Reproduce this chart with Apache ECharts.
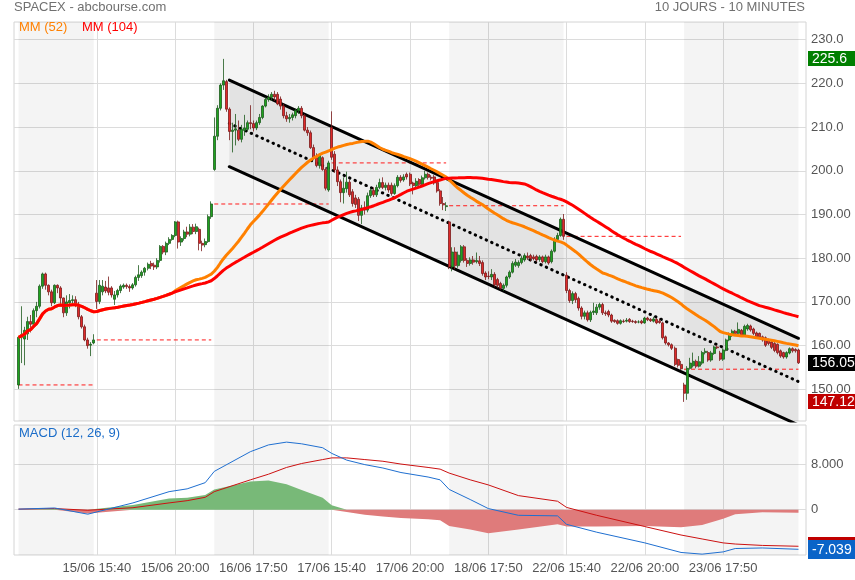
<!DOCTYPE html>
<html><head><meta charset="utf-8">
<script src="https://cdn.jsdelivr.net/npm/echarts@6/dist/echarts.min.js"></script>
<style>html,body{margin:0;padding:0;background:#fff}#c{width:855px;height:580px}</style>
</head><body><div id="c"></div>
<script>
// ---- data (10-minute candles: [open, close, low, high]) ----
const dayDates = ['12/06','15/06','16/06','17/06','18/06','22/06','23/06'];
const dayFirstTime = ['17:50','15:40','15:40','15:40','15:40','15:40','15:40'];
const prevCloses = [151.0,161.3,192.4,201.8,192.0,185.0,154.6];
const shadedDays = [0,2,4,6];
const tickLabels = ['15/06 15:40','15/06 20:00','16/06 17:50','17/06 15:40','17/06 20:00','18/06 17:50','22/06 15:40','22/06 20:00','23/06 17:50'];
const yTickValues = [150,160,170,180,190,200,210,220,230];
const yTickLabels = ['150.00','160.00','170.00','180.00','190.00','200.0','210.0','220.0','230.0'];
const macdTickValues = [0,8];
const macdTickLabels = ['0','8.000'];

const c1206 = [[151.0,161.9,150.1,162.0],[161.9,162.5,156.0,169.0],[161.5,163.5,155.5,164.3],[162.7,165.5,161.3,166.6],[165.5,164.9,163.0,167.0],[164.9,168.0,164.0,168.5],[168.0,169.0,166.5,170.0],[169.0,173.6,168.5,174.0],[173.6,176.4,173.0,176.7],[176.4,173.8,172.8,176.7],[173.8,172.3,171.5,174.0],[172.3,169.8,169.0,172.8],[169.8,173.8,169.5,174.0],[173.8,173.2,172.0,174.0],[173.2,170.9,169.5,173.6],[170.9,167.5,166.5,171.0],[167.5,170.0,166.8,171.5],[169.8,170.3,168.5,171.8],[170.3,170.5,169.5,171.5],[170.5,169.5,168.8,171.3],[169.5,166.6,166.0,170.0],[166.6,164.3,163.9,167.0],[164.3,161.3,161.0,164.8],[161.3,160.0,159.3,161.8],[160.1,160.3,157.6,160.8],[160.6,161.3,160.3,162.6]];
const c1506 = [[172.0,170.1,168.4,175.0],[170.1,173.8,169.5,175.0],[172.3,173.6,171.5,175.0],[173.4,172.5,172.0,174.8],[173.2,172.2,171.5,175.8],[173.2,171.6,171.0,173.6],[170.6,171.6,169.3,172.5],[171.6,172.6,171.0,173.0],[172.6,173.6,172.0,174.0],[173.4,173.8,173.0,174.2],[173.8,173.5,173.0,174.2],[173.5,173.2,172.3,174.0],[173.2,173.9,172.8,174.3],[173.9,175.6,173.5,176.0],[175.6,176.2,174.8,178.4],[176.0,176.8,175.5,177.2],[176.8,177.7,176.0,178.0],[177.7,178.6,177.2,179.0],[178.8,178.2,177.5,179.4],[178.4,178.0,177.3,179.0],[178.0,179.5,177.5,180.0],[179.5,182.7,179.0,183.0],[182.7,181.4,180.9,183.0],[181.4,183.4,180.7,183.8],[183.4,184.3,183.0,184.8],[184.3,185.2,184.0,185.5],[185.2,188.3,184.8,188.5],[188.3,183.7,182.2,188.6],[183.7,184.5,182.8,185.0],[184.5,186.0,184.0,186.5],[186.0,185.5,184.8,187.2],[185.5,187.1,185.0,187.8],[187.1,186.1,185.5,187.8],[186.1,187.2,185.5,187.9],[186.6,183.4,181.8,187.0],[183.4,183.0,181.6,184.0],[183.1,183.8,182.5,184.5],[183.8,189.5,183.5,190.0],[189.5,192.4,189.0,193.0]];
const c1606 = [[200.3,207.9,200.0,212.2],[207.9,214.3,207.0,215.0],[214.3,219.6,213.8,220.0],[219.6,220.6,218.5,225.6],[220.4,214.1,213.5,220.8],[214.1,209.0,207.0,214.5],[209.0,209.3,204.2,211.0],[209.3,209.6,205.8,213.0],[209.3,207.2,206.8,211.5],[207.2,209.5,206.5,210.5],[209.2,209.8,208.0,212.8],[209.5,211.0,209.0,211.5],[211.0,210.8,209.5,215.0],[210.8,209.8,209.0,211.5],[209.8,211.0,209.3,211.5],[211.0,212.2,210.5,213.0],[212.2,214.8,211.8,215.0],[214.8,216.3,214.5,216.8],[216.3,216.8,215.8,217.5],[216.8,217.5,216.0,218.0],[217.5,216.9,216.0,218.3],[217.5,215.3,215.0,218.0],[216.4,214.8,214.0,217.0],[214.8,212.6,212.0,215.3],[212.6,211.9,211.2,213.5],[211.9,212.2,211.0,213.0],[212.2,212.8,211.5,213.3],[212.6,213.8,212.0,214.2],[213.8,214.3,213.0,214.8],[214.3,212.6,212.0,214.8],[212.6,209.3,209.0,213.0],[209.3,208.7,208.0,210.0],[208.7,205.3,205.0,209.2],[205.3,203.0,202.5,206.0],[203.0,201.2,200.8,204.0],[201.2,203.6,200.5,204.0],[203.0,200.3,200.0,203.3],[200.3,196.0,195.5,200.8],[195.6,201.8,195.2,202.3]];
const c1706 = [[209.9,203.1,202.5,213.6],[203.8,200.2,199.5,204.5],[200.2,197.5,196.5,201.0],[197.5,195.0,192.8,198.0],[195.0,196.0,192.5,198.5],[195.9,197.4,195.0,199.8],[197.4,194.5,194.0,198.0],[195.2,192.5,191.8,195.8],[193.8,192.3,191.5,194.5],[193.5,189.8,188.5,194.0],[189.8,191.5,187.8,192.2],[191.5,191.0,190.0,193.0],[191.0,194.3,190.5,195.0],[194.3,195.5,193.8,196.0],[195.5,194.5,194.0,196.2],[194.5,196.2,194.0,196.8],[196.2,197.3,195.8,198.2],[197.3,196.2,195.8,198.5],[196.2,196.7,195.5,197.3],[196.7,195.6,195.0,197.3],[196.7,194.8,194.3,197.3],[194.8,196.6,194.5,197.1],[196.6,198.5,196.2,199.0],[198.5,197.8,197.3,199.0],[197.9,198.6,197.5,199.2],[199.2,198.6,198.0,199.6],[199.2,197.0,196.5,199.6],[197.2,196.6,194.6,197.5],[196.6,197.6,196.0,198.3],[198.0,196.9,196.5,198.3],[196.9,198.4,196.5,198.9],[198.4,199.2,198.0,200.0],[199.2,198.5,198.0,199.6],[198.5,198.3,197.8,199.0],[198.6,197.2,196.8,199.0],[197.3,195.4,195.0,197.5],[195.4,192.5,192.0,195.8],[192.5,192.2,191.0,194.0],[191.8,192.0,190.8,192.8]];
const c1806 = [[188.3,178.0,177.5,188.6],[178.0,181.4,177.0,182.5],[181.4,178.3,177.5,182.5],[178.3,180.7,177.8,181.5],[179.5,182.6,179.0,183.0],[182.6,179.5,179.0,183.0],[179.5,178.8,178.0,180.0],[178.8,179.6,178.3,180.2],[179.6,179.1,178.5,180.5],[179.2,179.5,178.8,181.3],[179.4,178.8,178.2,180.5],[179.0,176.5,176.0,179.5],[176.6,175.7,175.0,177.0],[175.9,175.8,175.2,177.0],[175.7,176.3,175.0,177.5],[176.3,173.9,173.5,176.8],[175.1,173.8,173.2,175.5],[174.2,173.1,172.8,174.6],[173.1,173.8,172.5,174.2],[173.8,175.7,173.3,176.0],[175.7,176.8,175.3,177.2],[176.8,178.8,176.5,179.3],[178.4,179.1,178.0,179.8],[178.3,179.0,177.8,179.5],[179.0,180.0,178.6,180.6],[179.6,180.6,179.2,181.1],[180.5,180.1,179.6,181.3],[180.6,179.9,179.3,181.0],[180.3,179.9,179.5,180.8],[180.4,179.6,179.2,180.8],[179.7,180.3,179.2,180.7],[180.3,179.2,178.8,180.6],[179.2,180.3,178.8,180.8],[180.3,178.9,178.5,180.6],[179.2,181.6,178.8,182.0],[181.6,184.3,181.3,184.8],[184.3,185.2,183.8,185.8],[185.2,188.9,184.9,189.3],[188.9,185.0,184.2,190.1]];
const c2206 = [[176.1,172.6,172.0,176.8],[172.6,170.3,169.8,173.0],[170.3,171.9,169.5,172.4],[171.9,170.5,169.8,172.3],[170.8,168.6,168.0,171.2],[168.6,166.7,166.0,169.0],[166.7,167.5,166.0,168.0],[167.5,165.9,165.5,168.0],[165.9,167.6,165.4,168.0],[167.6,167.9,167.0,169.8],[167.5,168.8,167.0,169.5],[168.8,169.4,168.2,169.8],[169.4,167.5,167.0,169.8],[167.5,167.3,166.8,168.0],[167.8,167.0,166.5,168.2],[167.0,165.6,165.2,167.3],[165.8,165.5,165.2,166.0],[165.7,165.1,164.8,166.0],[165.1,165.7,164.8,166.0],[165.6,165.5,165.2,166.0],[165.6,165.8,165.3,166.3],[166.0,165.5,165.2,166.3],[165.6,165.5,165.2,165.9],[165.5,165.3,165.0,165.8],[165.4,165.4,165.1,165.8],[165.6,165.2,164.9,165.9],[165.2,166.3,165.0,166.6],[166.3,165.9,165.6,166.6],[166.0,165.7,165.4,166.3],[165.6,166.1,165.3,166.6],[166.0,165.2,164.9,166.3],[165.6,165.3,165.0,166.2],[165.2,161.8,161.4,165.5],[162.0,160.6,160.2,162.3],[160.6,160.2,159.8,160.8],[160.2,159.4,159.0,160.5],[159.4,155.7,155.3,159.8],[156.8,155.5,155.0,157.0],[155.7,154.7,154.4,156.5]];
const c2306 = [[151.0,149.1,147.12,151.5],[149.1,154.8,147.6,155.3],[154.8,156.0,154.5,157.2],[155.4,156.4,155.0,158.4],[156.4,155.3,154.8,156.8],[155.3,156.3,155.0,157.6],[156.0,158.4,155.6,158.8],[158.4,158.7,158.0,159.4],[158.4,156.7,156.3,158.8],[156.7,158.3,156.3,158.8],[158.2,159.7,157.9,160.0],[159.7,159.5,159.2,160.1],[158.3,156.9,156.5,158.8],[156.9,159.0,156.5,159.4],[159.0,161.3,158.7,161.6],[161.3,162.6,161.0,163.0],[162.4,163.3,162.0,163.7],[163.3,162.8,162.4,163.6],[162.8,163.7,162.4,165.3],[163.5,162.4,162.0,163.8],[162.4,164.4,162.0,164.8],[163.8,164.6,163.4,165.0],[164.5,163.6,163.2,164.8],[163.8,162.8,162.4,164.1],[162.9,162.0,161.6,163.2],[162.8,162.0,161.6,163.0],[162.0,161.3,160.9,162.3],[161.8,160.1,159.7,162.1],[161.3,160.5,160.1,161.6],[160.8,159.6,159.2,161.0],[160.5,158.9,158.5,160.8],[160.3,158.4,158.0,160.5],[158.8,157.6,157.2,159.1],[158.4,157.4,157.0,158.6],[157.4,158.4,157.0,158.7],[158.3,159.3,158.0,159.6],[159.3,158.8,158.4,159.6],[159.1,158.8,158.4,159.4],[159.0,156.05,155.8,159.3]];

// regression channel (candle index, value)
const channelIdx = [70, 259];
const channelUpper = [220.76, 161.67];
const channelMid = [210.85, 151.76];
const channelLower = [200.93, 141.84];

// MACD (12,26,9) read at knots (candle index)
const macdIdx = [0,12,23,38,50,56,62,65,77,83,89,94,101,104,109,115,121,127,136,140,143,150,156,166,179,182,192,208,220,227,234,238,247,259];
const macdLine = [0.1,0.3,-0.8,1.2,3.2,3.7,4.8,6.8,10.3,11.5,12.0,11.7,11.0,10.0,8.8,8.0,7.4,6.6,5.8,5.3,3.6,1.8,0.2,-1.0,-1.1,-2.6,-4.0,-5.9,-7.6,-7.9,-7.5,-6.9,-6.8,-7.039];
const signalLine = [0.1,0.2,-0.1,0.35,1.2,1.6,2.2,3.2,5.3,6.3,7.5,8.2,8.9,9.2,9.2,8.9,8.6,8.1,7.5,7.2,6.5,5.3,4.4,2.5,1.5,0.4,-1.0,-3.0,-4.5,-5.2,-5.9,-6.1,-6.35,-6.5];

// ---- build ----
const days = [c1206,c1506,c1606,c1706,c1806,c2206,c2306];
const candles = [].concat(...days);
const N = candles.length;
const PADL = 1, PADR = 2;
const slot = i => i + PADL;
const pad2 = n => (n < 10 ? '0' : '') + n;
const cats = [' '];
const dayStart = [], dayEnd = [];
days.forEach((d, k) => {
  const [h, m] = dayFirstTime[k].split(':').map(Number);
  dayStart.push(cats.length - PADL);
  for (let j = 0; j < d.length; j++) {
    const t = h * 60 + m + 10 * j;
    cats.push(dayDates[k] + ' ' + pad2(Math.floor(t / 60)) + ':' + pad2(t % 60));
  }
  dayEnd.push(cats.length - 1 - PADL);
});
cats.push('  ', '   ');
const M = cats.length;
const padArr = arr => [].concat(new Array(PADL).fill('-'), arr, new Array(PADR).fill('-'));
const closes = candles.map(c => c[1]);
function movingAvg(n) {
  return closes.map((_, i) => {
    const s = Math.max(0, i - n + 1); let sum = 0;
    for (let k = s; k <= i; k++) sum += closes[k];
    return +(sum / (i - s + 1)).toFixed(3);
  });
}
const ma52 = movingAvg(52), ma104 = movingAvg(104);
function sparse(idx, vals) {
  const a = new Array(M).fill(null);
  idx.forEach((ix, k) => { a[slot(ix)] = vals[k]; });
  return a;
}
const hist = macdLine.map((v, k) => +(v - signalLine[k]).toFixed(3));
const histPos = hist.map(v => v > 0 ? v : 0);
const histNeg = hist.map(v => v < 0 ? v : 0);
const maxHigh = Math.max(...candles.map(c => c[3]));
const minLow = Math.min(...candles.map(c => c[2]));
const lastClose = closes[N - 1];
const lastMacd = macdLine[macdLine.length - 1];
const lastSignal = signalLine[signalLine.length - 1];
const tickSet = new Set(tickLabels);
const FONT = '"Liberation Sans", Arial, sans-serif';
const GRID_C = '#dcdcdc';
const DASH_RED = '#ff1a1a';

function clipPoly(pts, r) {
  const E = [[0, r.x, 1], [0, r.x + r.width, -1], [1, r.y, 1], [1, r.y + r.height, -1]];
  let out = pts;
  for (const [ax, v, s] of E) {
    const inp = out; out = [];
    for (let i = 0; i < inp.length; i++) {
      const a = inp[i], b = inp[(i + 1) % inp.length];
      const ia = (a[ax] - v) * s >= 0, ib = (b[ax] - v) * s >= 0;
      if (ia) out.push(a);
      if (ia !== ib) { const t = (v - a[ax]) / (b[ax] - a[ax]); out.push([a[0] + t * (b[0] - a[0]), a[1] + t * (b[1] - a[1])]); }
    }
  }
  return out;
}

const bandAreas = shadedDays.map(k => [{ xAxis: slot(dayStart[k]) }, { xAxis: slot(dayEnd[k]) }]);
const prevCloseSeries = prevCloses.map((v, k) => ({
  name: 'prevClose' + k, type: 'line', xAxisIndex: 0, yAxisIndex: 0, z: 2, silent: true, symbol: 'none',
  connectNulls: true, color: DASH_RED,
  data: sparse([dayStart[k], dayEnd[k]], [v, v]),
  lineStyle: { color: DASH_RED, width: 1, type: [4, 3] }
}));

const chart = echarts.init(document.getElementById('c'), null, { renderer: 'canvas' });
chart.setOption({
  animation: false,
  backgroundColor: '#fff',
  textStyle: { fontFamily: FONT },
  grid: [
    { left: 14, top: 22, width: 792, height: 399, show: true, borderColor: '#d4d4d4', borderWidth: 1 },
    { left: 14, top: 425, width: 792, height: 130, show: true, borderColor: '#d4d4d4', borderWidth: 1 }
  ],
  xAxis: [0, 1].map(g => ({
    type: 'category', gridIndex: g, data: cats, boundaryGap: true,
    axisLine: { show: false }, axisTick: { show: false },
    axisLabel: { show: g === 1, interval: (i, v) => tickSet.has(v), color: '#555', fontSize: 13, margin: 7, fontFamily: FONT },
    splitLine: { show: true, alignWithLabel: true, interval: (i, v) => tickSet.has(v), lineStyle: { color: GRID_C, width: 1 } }
  })),
  yAxis: [
    { type: 'value', gridIndex: 0, position: 'right', min: 142.75, max: 234.04,
      axisLine: { show: false }, axisTick: { show: false, customValues: yTickValues },
      axisLabel: { customValues: yTickValues, color: '#555', fontSize: 13, margin: 5, fontFamily: FONT,
        formatter: v => { const k = yTickValues.indexOf(Math.round(v)); return k >= 0 ? yTickLabels[k] : ''; } },
      splitLine: { show: true, lineStyle: { color: GRID_C } } },
    { type: 'value', gridIndex: 1, position: 'right', min: -8.05, max: 15.04,
      axisLine: { show: false }, axisTick: { show: false, customValues: macdTickValues },
      axisLabel: { customValues: macdTickValues, color: '#555', fontSize: 13, margin: 5, fontFamily: FONT,
        formatter: v => { const k = macdTickValues.indexOf(Math.round(v)); return k >= 0 ? macdTickLabels[k] : ''; } },
      splitLine: { show: true, lineStyle: { color: GRID_C } } }
  ],
  series: [
    { name: 'bands', type: 'line', xAxisIndex: 0, yAxisIndex: 0, data: new Array(M).fill('-'), z: 0, silent: true,
      markArea: { silent: true, itemStyle: { color: 'rgba(0,0,0,0.045)' }, data: bandAreas } },
    { name: 'bands2', type: 'line', xAxisIndex: 1, yAxisIndex: 1, data: new Array(M).fill('-'), z: 0, silent: true,
      markArea: { silent: true, itemStyle: { color: 'rgba(0,0,0,0.045)' }, data: bandAreas } },
    { name: 'channelFill', type: 'custom', xAxisIndex: 0, yAxisIndex: 0, z: 1, silent: true,
      data: [[slot(channelIdx[0]), channelUpper[0], channelLower[0], slot(channelIdx[1]), channelUpper[1], channelLower[1]]],
      renderItem: (params, api) => {
        const p1 = api.coord([api.value(0), api.value(1)]);
        const p2 = api.coord([api.value(3), api.value(4)]);
        const p3 = api.coord([api.value(3), api.value(5)]);
        const p4 = api.coord([api.value(0), api.value(2)]);
        const cs = params.coordSys;
        return { type: 'polygon', shape: { points: clipPoly([p1, p2, p3, p4], cs) }, style: { fill: 'rgba(0,0,0,0.065)' } };
      } },
    ...prevCloseSeries,
    ...[['up', channelUpper, 'solid', 3], ['mid', channelMid, [0.5, 5.5], 3], ['lo', channelLower, 'solid', 3]].map(([n, vals, t, w]) => ({
      name: 'channel-' + n, type: 'line', xAxisIndex: 0, yAxisIndex: 0, z: 3, silent: true, symbol: 'none', connectNulls: true,
      data: sparse(channelIdx, vals), lineStyle: { color: '#000', width: w, type: t, cap: 'round' }
    })),
    { name: 'SPACEX', type: 'candlestick', xAxisIndex: 0, yAxisIndex: 0, z: 4, data: padArr(candles), barWidth: 2.5,
      itemStyle: { color: '#1fa31f', color0: '#e02a2a', borderColor: '#1d5a1d', borderColor0: '#7a1a1a', borderWidth: 0.8 } },
    { name: 'MM (52)', type: 'line', xAxisIndex: 0, yAxisIndex: 0, z: 5, symbol: 'none', data: padArr(ma52),
      lineStyle: { color: '#ff8000', width: 3 } },
    { name: 'MM (104)', type: 'line', xAxisIndex: 0, yAxisIndex: 0, z: 6, symbol: 'none', data: padArr(ma104),
      lineStyle: { color: '#ff0000', width: 3 } },
    { name: 'histPos', type: 'line', xAxisIndex: 1, yAxisIndex: 1, z: 2, symbol: 'none', connectNulls: true,
      data: sparse(macdIdx, histPos), lineStyle: { width: 0 }, areaStyle: { color: '#78b978', opacity: 1 } },
    { name: 'histNeg', type: 'line', xAxisIndex: 1, yAxisIndex: 1, z: 2, symbol: 'none', connectNulls: true,
      data: sparse(macdIdx, histNeg), lineStyle: { width: 0 }, areaStyle: { color: '#df7b7b', opacity: 1 } },
    { name: 'signal', type: 'line', xAxisIndex: 1, yAxisIndex: 1, z: 3, symbol: 'none', connectNulls: true,
      data: sparse(macdIdx, signalLine), lineStyle: { color: '#cc1111', width: 1 } },
    { name: 'MACD', type: 'line', xAxisIndex: 1, yAxisIndex: 1, z: 4, symbol: 'none', connectNulls: true,
      data: sparse(macdIdx, macdLine), lineStyle: { color: '#1f6fd0', width: 1 } }
  ]
});

// value tags on the right, positioned through the axes' own scales
function tag(axisIndex, value, text, bg, h, z) {
  const py = chart.convertToPixel({ yAxisIndex: axisIndex }, value);
  return { type: 'group', x: 808, y: Math.round(py - h / 2), z: z, children: [
    { type: 'rect', shape: { x: 0, y: 0, width: 48, height: h }, style: { fill: bg } },
    { type: 'text', x: 4, y: h / 2 + 0.5, style: { text: text, fill: '#fff', font: '14px ' + FONT, verticalAlign: 'middle' } }
  ] };
}
chart.setOption({
  graphic: [
    { type: 'text', left: 14, top: 1, style: { text: 'SPACEX - abcbourse.com', fill: '#707070', font: '13px ' + FONT } },
    { type: 'text', right: 50, top: 1, style: { text: '10 JOURS - 10 MINUTES', fill: '#707070', font: '13px ' + FONT } },
    { type: 'text', left: 19, top: 21, z: 100, style: { text: 'MM (52)', fill: '#ff8000', font: '13px ' + FONT } },
    { type: 'text', left: 82, top: 21, z: 100, style: { text: 'MM (104)', fill: '#ff0000', font: '13px ' + FONT } },
    { type: 'text', left: 19, top: 427, z: 100, style: { text: 'MACD (12, 26, 9)', fill: '#1a6cc8', font: '13px ' + FONT } },
    tag(0, maxHigh, String(maxHigh), '#007f00', 15, 100),
    tag(0, lastClose, String(lastClose), '#000000', 16, 100),
    tag(0, minLow, String(minLow), '#c00000', 15, 100),
    tag(1, lastSignal, lastSignal.toFixed(3), '#c00000', 19, 100),
    tag(1, lastMacd, lastMacd.toFixed(3), '#0a64c8', 19, 101)
  ]
});
</script></body></html>
